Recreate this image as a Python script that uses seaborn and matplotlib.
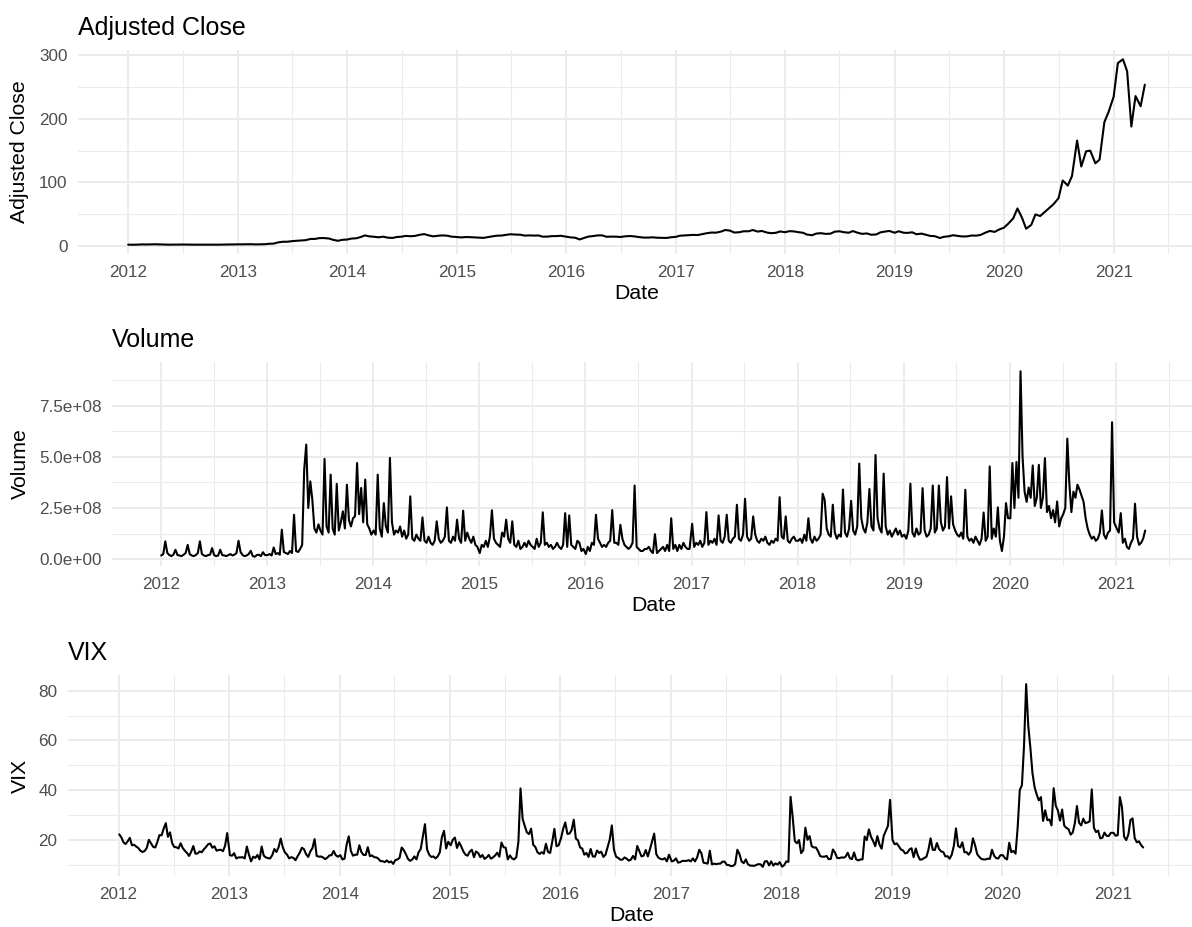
import matplotlib
matplotlib.use("Agg")
import matplotlib.pyplot as plt
import matplotlib.dates as mdates
from matplotlib.ticker import MultipleLocator, FuncFormatter
import pandas as pd
import seaborn as sns

# ---------------- data ----------------
# Adjusted close, sampled on the 1st and 15th of each month
price_2012 = [1.9, 1.8, 1.95, 2.3, 2.2, 2.3, 2.5, 2.3, 2.2, 1.9, 2.0, 2.0, 2.1, 2.0, 1.8, 1.9, 1.9, 2.0, 1.9, 1.9, 1.9, 2.1, 2.2, 2.3]
price_2013 = [2.4, 2.4, 2.5, 2.6, 2.3, 2.5, 2.6, 3.3, 3.6, 5.5, 6.5, 6.5, 7.5, 8.0, 8.7, 9.0, 11.0, 10.9, 12.3, 12.3, 11.6, 9.5, 8.0, 9.5]
price_2014 = [10.0, 11.5, 12.0, 14.0, 16.5, 15.0, 14.3, 13.5, 14.5, 13.0, 12.5, 13.9, 14.5, 15.7, 15.2, 15.7, 17.6, 18.5, 16.4, 15.0, 16.0, 16.5, 16.0, 14.5]
price_2015 = [14.0, 13.3, 13.9, 13.7, 13.3, 13.0, 12.6, 13.8, 15.1, 16.0, 16.3, 17.4, 18.3, 17.8, 17.6, 16.2, 16.5, 16.2, 16.4, 14.5, 14.6, 15.4, 15.4, 15.9]
price_2016 = [14.5, 13.4, 12.8, 10.1, 12.5, 14.6, 15.5, 16.5, 16.5, 14.3, 14.6, 14.5, 14.0, 15.0, 15.5, 15.0, 13.8, 13.1, 13.0, 13.5, 12.8, 12.6, 12.5, 13.5]
price_2017 = [14.2, 16.0, 16.5, 16.8, 17.3, 17.0, 18.6, 20.0, 21.0, 20.8, 22.5, 25.0, 24.0, 21.0, 21.5, 23.0, 23.0, 25.0, 22.5, 23.5, 21.0, 20.0, 20.6, 22.7]
price_2018 = [21.5, 23.2, 22.7, 21.5, 20.7, 17.8, 16.8, 19.4, 20.0, 18.9, 19.2, 22.3, 23.0, 21.6, 20.7, 23.3, 20.5, 18.9, 19.6, 17.5, 18.0, 21.3, 22.6, 23.5]
price_2019 = [20.7, 23.0, 20.6, 20.5, 21.4, 18.3, 19.3, 17.6, 15.6, 15.3, 12.4, 14.3, 15.1, 16.8, 15.6, 14.8, 15.0, 16.3, 16.1, 17.3, 21.0, 23.5, 22.0, 25.6]
price_2020 = [28.7, 34.8, 43.4, 59.0, 44.5, 27.0, 33.0, 49.5, 47.0, 53.0, 60.0, 66.0, 75.0, 103.0, 95.0, 110.0, 166.0, 125.0, 149.0, 150.0, 130.0, 136.0, 195.0, 211.0]
price_2021 = [235.0, 288.0, 294.0, 275.0, 188.0, 236.0, 220.0, 254.0]

# Volume (millions of shares), weekly
vol_2012 = [18, 25, 87, 30, 20, 15, 22, 46, 20, 18, 15, 22, 30, 70, 25, 18, 15, 20, 30, 87, 25, 18, 15, 20, 22, 54, 20, 15, 18, 46, 20, 18, 15, 20, 25, 18, 22, 30, 90, 35, 20, 15, 18, 25, 41, 15, 12, 20, 22, 15, 34, 20]
vol_2013 = [20, 25, 18, 57, 25, 30, 22, 144, 35, 30, 25, 40, 30, 217, 40, 35, 50, 70, 438, 560, 250, 380, 290, 150, 130, 170, 140, 120, 490, 160, 130, 413, 150, 120, 368, 140, 180, 234, 150, 364, 190, 160, 200, 210, 470, 220, 348, 180, 389, 170, 150, 120]
vol_2014 = [140, 120, 413, 150, 110, 274, 160, 130, 495, 180, 120, 140, 130, 160, 110, 140, 100, 120, 307, 100, 90, 120, 100, 90, 204, 90, 80, 110, 80, 70, 90, 185, 100, 80, 90, 110, 253, 90, 80, 110, 90, 193, 100, 80, 237, 90, 130, 100, 80, 110, 70, 60]
vol_2015 = [30, 70, 60, 90, 60, 110, 239, 100, 80, 70, 60, 130, 110, 193, 100, 80, 185, 70, 60, 90, 50, 60, 80, 60, 90, 70, 60, 50, 100, 60, 80, 229, 70, 80, 60, 70, 50, 60, 80, 60, 50, 70, 225, 60, 214, 70, 60, 50, 90, 80, 40, 50]
vol_2016 = [25, 60, 40, 80, 70, 217, 100, 80, 60, 70, 60, 80, 90, 240, 80, 80, 70, 168, 100, 70, 60, 50, 60, 80, 360, 60, 50, 40, 40, 50, 50, 60, 40, 30, 122, 30, 40, 50, 60, 40, 70, 40, 200, 50, 70, 40, 70, 50, 80, 60, 50, 50]
vol_2017 = [173, 60, 80, 70, 90, 60, 80, 230, 70, 90, 80, 100, 70, 214, 90, 80, 110, 217, 90, 80, 100, 110, 266, 100, 90, 120, 295, 110, 90, 100, 209, 120, 90, 80, 100, 90, 110, 80, 70, 90, 80, 100, 90, 303, 110, 100, 209, 90, 80, 100, 110, 90]
vol_2018 = [90, 100, 80, 120, 90, 200, 100, 80, 110, 90, 100, 120, 320, 290, 150, 120, 110, 266, 130, 100, 120, 110, 340, 130, 110, 150, 285, 140, 120, 160, 467, 200, 150, 130, 180, 343, 160, 140, 509, 200, 150, 130, 418, 160, 120, 140, 110, 130, 150, 120, 140, 110]
vol_2019 = [120, 100, 140, 369, 130, 110, 150, 120, 130, 347, 140, 110, 120, 150, 360, 130, 150, 360, 180, 140, 160, 401, 150, 307, 170, 140, 120, 110, 130, 100, 339, 110, 90, 100, 80, 110, 90, 70, 100, 228, 90, 110, 453, 100, 150, 110, 253, 90, 40, 110, 274, 200]
vol_2020 = [200, 470, 250, 475, 300, 918, 500, 330, 280, 350, 300, 458, 260, 300, 461, 250, 300, 494, 230, 260, 200, 240, 180, 282, 160, 200, 220, 250, 589, 369, 230, 330, 300, 364, 340, 310, 280, 200, 150, 120, 100, 110, 90, 100, 130, 238, 120, 100, 130, 140, 669, 180]
vol_2021 = [150, 130, 225, 80, 100, 60, 50, 80, 100, 271, 110, 70, 80, 100, 140]

# VIX, weekly
vix_2012 = [22.2, 21.0, 19.0, 18.3, 19.4, 20.8, 17.8, 18.0, 17.3, 16.7, 15.6, 15.1, 15.5, 16.7, 20.0, 18.6, 17.2, 16.9, 19.1, 21.9, 21.8, 24.5, 26.7, 21.2, 23.0, 18.6, 17.1, 17.0, 16.5, 18.6, 16.7, 15.6, 14.7, 13.5, 15.2, 17.5, 14.4, 14.5, 15.3, 15.0, 16.2, 17.1, 18.2, 18.5, 16.8, 17.4, 15.6, 15.9, 16.0, 15.4, 17.6, 22.7]
vix_2013 = [13.8, 13.6, 14.6, 12.5, 12.9, 12.9, 13.0, 12.5, 17.3, 14.0, 11.3, 13.2, 12.7, 13.9, 12.1, 17.3, 13.6, 12.9, 12.6, 12.5, 13.8, 16.3, 15.1, 17.0, 20.5, 16.9, 14.9, 14.0, 12.5, 13.0, 12.7, 11.8, 13.4, 14.8, 16.8, 16.2, 14.2, 13.1, 15.3, 16.7, 20.3, 13.5, 13.2, 13.3, 12.9, 12.2, 12.8, 13.7, 13.8, 15.5, 13.8, 13.2]
vix_2014 = [13.8, 12.1, 12.4, 18.1, 21.4, 15.5, 13.6, 14.0, 14.0, 17.8, 15.0, 13.9, 13.9, 17.0, 13.4, 13.7, 13.0, 12.9, 12.4, 11.4, 11.4, 11.0, 11.7, 10.9, 11.3, 10.3, 11.8, 12.1, 12.7, 16.9, 15.8, 14.2, 12.3, 11.5, 12.1, 13.3, 12.1, 15.0, 16.3, 21.2, 26.3, 16.1, 14.0, 13.1, 13.3, 12.5, 13.3, 14.9, 21.1, 23.6, 16.5, 19.2]
vix_2015 = [17.8, 20.0, 20.9, 16.7, 19.0, 17.3, 15.3, 14.0, 13.6, 15.2, 16.0, 13.0, 15.3, 14.7, 13.0, 13.9, 12.3, 12.9, 13.9, 12.4, 12.9, 13.7, 14.8, 13.2, 18.9, 17.0, 16.8, 12.1, 13.7, 12.5, 12.1, 13.0, 19.1, 40.7, 28.4, 25.6, 23.0, 22.3, 24.5, 18.0, 17.1, 15.0, 14.3, 15.0, 14.4, 18.4, 15.1, 14.7, 19.3, 24.4, 17.4, 17.8]
vix_2016 = [20.7, 24.4, 27.0, 22.4, 22.5, 23.9, 28.1, 20.5, 19.8, 16.9, 16.5, 14.0, 14.7, 13.1, 16.3, 13.3, 13.2, 15.7, 14.7, 15.2, 13.1, 14.0, 17.0, 20.1, 25.8, 16.0, 13.2, 12.7, 12.0, 12.0, 12.9, 12.4, 11.6, 12.0, 13.5, 12.1, 17.5, 15.4, 13.3, 13.6, 15.9, 13.3, 16.2, 19.3, 22.5, 14.2, 12.8, 12.3, 12.1, 12.6, 11.3, 14.0]
vix_2017 = [11.3, 11.6, 12.5, 10.8, 11.0, 11.5, 11.5, 11.5, 11.8, 11.3, 12.5, 11.3, 12.9, 16.0, 14.6, 10.8, 10.6, 10.4, 15.6, 10.1, 10.4, 10.2, 10.4, 10.4, 11.2, 11.2, 9.9, 9.8, 9.4, 9.5, 10.3, 16.0, 14.3, 11.3, 10.6, 12.1, 10.2, 9.6, 9.6, 9.5, 9.9, 10.2, 10.1, 9.1, 11.3, 11.4, 9.7, 11.3, 9.6, 10.5, 10.0, 11.0]
vix_2018 = [9.2, 9.8, 11.3, 11.1, 37.3, 29.1, 19.5, 18.6, 19.9, 14.6, 15.8, 24.9, 20.0, 21.5, 17.4, 16.9, 16.9, 15.4, 13.4, 13.2, 13.2, 13.5, 12.2, 12.3, 16.1, 14.8, 12.7, 12.6, 12.9, 12.8, 13.2, 14.8, 12.6, 12.2, 14.9, 12.1, 11.7, 12.1, 12.1, 21.3, 19.9, 24.2, 21.2, 19.5, 17.4, 21.5, 18.1, 16.4, 21.6, 23.6, 25.6, 36.1]
vix_2019 = [20.0, 18.2, 18.6, 17.4, 16.1, 15.7, 14.5, 14.8, 16.1, 16.6, 13.0, 16.5, 13.7, 12.0, 12.1, 12.7, 13.1, 16.0, 20.6, 16.0, 15.9, 18.7, 16.3, 15.3, 15.1, 13.3, 13.4, 12.4, 14.0, 17.6, 24.6, 17.5, 16.9, 19.0, 15.0, 15.0, 14.0, 15.3, 20.6, 17.9, 14.3, 13.1, 12.3, 12.1, 12.1, 12.4, 12.3, 16.0, 13.6, 12.6, 12.5, 13.8]
vix_2020 = [13.8, 12.6, 12.1, 18.8, 15.0, 15.5, 14.4, 25.0, 40.1, 41.9, 57.8, 82.7, 66.0, 57.1, 46.8, 41.2, 38.2, 35.9, 37.2, 27.6, 31.9, 27.9, 28.2, 25.8, 40.8, 33.7, 31.8, 27.7, 32.2, 25.7, 24.8, 24.3, 22.1, 22.9, 26.6, 33.6, 26.9, 25.8, 28.5, 26.7, 27.0, 27.4, 40.3, 24.9, 23.1, 23.7, 20.6, 20.8, 22.9, 21.6, 21.5, 22.8]
vix_2021 = [22.8, 21.6, 21.9, 37.2, 33.1, 21.2, 19.9, 22.1, 28.0, 28.6, 20.7, 19.0, 19.4, 17.9, 16.9]

years = list(range(2012, 2022))
price_years = [price_2012, price_2013, price_2014, price_2015, price_2016,
               price_2017, price_2018, price_2019, price_2020, price_2021]
vol_years = [vol_2012, vol_2013, vol_2014, vol_2015, vol_2016,
             vol_2017, vol_2018, vol_2019, vol_2020, vol_2021]
vix_years = [vix_2012, vix_2013, vix_2014, vix_2015, vix_2016,
             vix_2017, vix_2018, vix_2019, vix_2020, vix_2021]


def build(year_lists, start_day, freq):
    frames = []
    for y, vals in zip(years, year_lists):
        d = pd.date_range(f"{y}-01-{start_day:02d}", periods=len(vals), freq=freq)
        frames.append(pd.DataFrame({"Date": d, "value": vals}))
    return pd.concat(frames, ignore_index=True)


price_df = build(price_years, 1, "SMS")
vol_df = build(vol_years, 3, "7D")
vol_df["value"] = vol_df["value"] * 1e6
vix_df = build(vix_years, 3, "7D")

# ---------------- figure ----------------
sns.set_theme(style="white")
plt.rcParams["font.family"] = ["Liberation Sans", "DejaVu Sans"]

W, H = 1192, 927
fig = plt.figure(figsize=(W / 100, H / 100), dpi=100)
fig.patch.set_facecolor("white")


def add_ax(left, top, right, bottom):
    return fig.add_axes([left / W, 1 - bottom / H, (right - left) / W, (bottom - top) / H])


x0 = pd.Timestamp("2012-01-03")
x1 = pd.Timestamp("2021-04-13")
span = x1 - x0
xlim = (x0 - 0.05 * span, x1 + 0.05 * span)

panels = [
    (add_ax(78, 50, 1195, 254), price_df, "Adjusted Close", 100, 50, None),
    (add_ax(112, 362, 1195, 566), vol_df, "Volume", 2.5e8, 1.25e8,
     FuncFormatter(lambda v, p: f"{v:.1e}")),
    (add_ax(68, 675, 1195, 876), vix_df, "VIX", 20, 10, None),
]

for ax, df, name, major, minor, fmt in panels:
    sns.lineplot(data=df, x="Date", y="value", ax=ax, color="black",
                 linewidth=1.5, estimator=None)
    ax.set_xlim(*xlim)
    ax.set_facecolor("white")
    for s in ax.spines.values():
        s.set_visible(False)
    ax.xaxis.set_major_locator(mdates.YearLocator())
    ax.xaxis.set_major_formatter(mdates.DateFormatter("%Y"))
    ax.xaxis.set_minor_locator(mdates.MonthLocator(bymonth=7))
    ax.yaxis.set_major_locator(MultipleLocator(major))
    ax.yaxis.set_minor_locator(MultipleLocator(minor))
    if fmt is not None:
        ax.yaxis.set_major_formatter(fmt)
    ax.grid(which="major", color="#EBEBEB", linewidth=1.4)
    ax.grid(which="minor", color="#EBEBEB", linewidth=0.8)
    ax.set_axisbelow(True)
    ax.tick_params(which="both", length=0)
    ax.tick_params(axis="x", pad=8, labelsize=12.3, labelcolor="#4D4D4D")
    ax.tick_params(axis="y", pad=7.5, labelsize=12.3, labelcolor="#4D4D4D")
    ax.set_title(name, loc="left", fontsize=18, pad=11, color="black")
    ax.set_xlabel("Date", fontsize=15.3, labelpad=2.5, color="black")
    ax.set_ylabel("")
    pos = ax.get_position()
    fig.text(20 / W, pos.y0 + pos.height / 2, name, rotation=90,
             ha="center", va="center", fontsize=15.3, color="black")

fig.savefig("out.png", dpi=100, facecolor="white")
